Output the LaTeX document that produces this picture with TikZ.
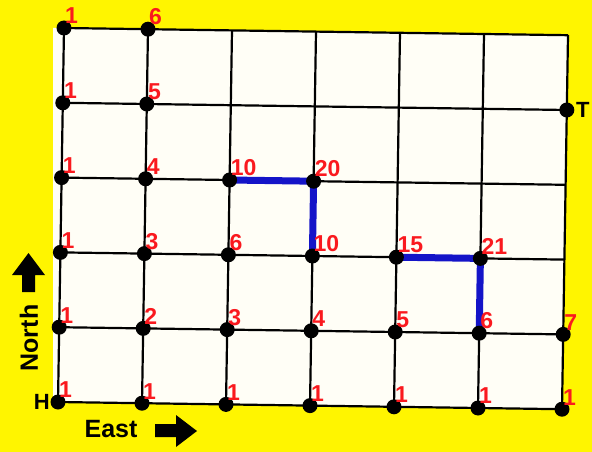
\documentclass[tikz,border=0pt]{standalone}
\usepackage{fontspec}
\setmainfont{Liberation Sans}
\definecolor{bgyellow}{RGB}{255,245,0}
\definecolor{paper}{RGB}{255,254,246}
\definecolor{numred}{RGB}{250,25,30}
\definecolor{pathblue}{RGB}{20,20,200}
\tikzset{
  gridline/.style={line width=2.2pt, black},
  dot/.style={circle, fill=black, inner sep=0pt, minimum size=15pt},
  num/.style={anchor=south west, inner sep=0pt, text=numred, font=\bfseries\fontsize{23}{23}\selectfont},
  bluepath/.style={line width=7pt, pathblue, line cap=butt, line join=miter},
  bigtext/.style={inner sep=0pt, font=\bfseries\fontsize{25}{25}\selectfont},
  blockarrow/.style={fill=black}
}
\begin{document}
\begin{tikzpicture}[x=1pt,y=-1pt]
\useasboundingbox (0,0) rectangle (592,452);
\fill[bgyellow] (0,0) rectangle (592,452);
% vertex coordinates
\foreach \i in {0,...,6}{
  \foreach \j in {0,...,5}{
    \coordinate (v-\i-\j) at ({58+84*\i+1.2*\j},{402+1.2*\i-74.8*\j});
  }
}
% paper
\fill[paper] (53,28) -- (v-0-5) -- (v-6-5) -- (v-6-0) -- (v-0-0) -- (53,402) -- cycle;
% grid
\foreach \j in {0,...,5}{ \draw[gridline] (v-0-\j) -- (v-6-\j); }
\foreach \i in {0,...,6}{ \draw[gridline] (v-\i-0) -- (v-\i-5); }
% blue paths
\draw[bluepath] (v-2-3) -- (v-3-3) -- (v-3-2);
\draw[bluepath] (v-4-2) -- (v-5-2) -- (v-5-1);
% dots and numbers
\foreach \i/\j/\n in {0/0/1,0/1/1,0/2/1,0/3/1,0/4/1,0/5/1,
  1/0/1,1/1/2,1/2/3,1/3/4,1/4/5,1/5/6,
  2/0/1,2/1/3,2/2/6,2/3/10,
  3/0/1,3/1/4,3/2/10,3/3/20,
  4/0/1,4/1/5,4/2/15,
  5/0/1,5/1/6,5/2/21,
  6/0/1,6/1/7}{
  \node[dot] (d-\i-\j) at (v-\i-\j) {};
  \node[num] (n-\i-\j) at ([shift={(1,-4)}]v-\i-\j) {\n};
}
\node[dot] (d-6-4) at (v-6-4) {};
\node[bigtext, font=\bfseries\fontsize{22}{22}\selectfont, anchor=west] (T) at ([xshift=9]d-6-4.center) {T};
\node[bigtext, font=\bfseries\fontsize{22}{22}\selectfont, anchor=east] (H) at ([xshift=-8]d-0-0.center) {H};
% North label and arrow
\node[bigtext, rotate=90] (north) at (29,338) {North};
\fill[blockarrow] (28.5,253) -- (45,275) -- (35,275) -- (35,292) -- (22,292) -- (22,275) -- (12,275) -- cycle;
% East label and arrow
\node[bigtext] (east) at (111,429) {East};
\fill[blockarrow] (197,431) -- (176,447) -- (176,437) -- (155,437) -- (155,424) -- (176,424) -- (176,415) -- cycle;
\end{tikzpicture}
\end{document}
